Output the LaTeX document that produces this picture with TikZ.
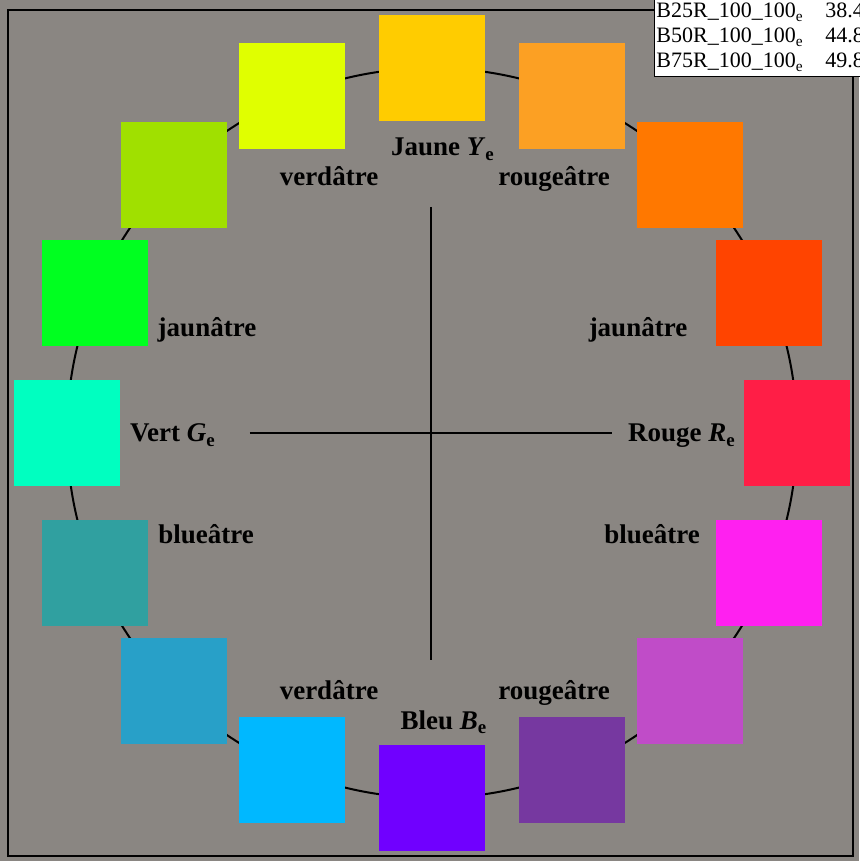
\documentclass[tikz,border=0pt]{standalone}
\usepackage{fontspec}
\setmainfont{Liberation Serif}
\usetikzlibrary{positioning}
\definecolor{bggray}{RGB}{138,134,130}
\definecolor{c1}{RGB}{255,204,0}
\definecolor{c2}{RGB}{252,160,35}
\definecolor{c3}{RGB}{255,120,0}
\definecolor{c4}{RGB}{255,68,0}
\definecolor{c5}{RGB}{255,30,70}
\definecolor{c6}{RGB}{255,32,240}
\definecolor{c7}{RGB}{192,76,200}
\definecolor{c8}{RGB}{118,56,160}
\definecolor{c9}{RGB}{112,0,255}
\definecolor{c10}{RGB}{0,184,255}
\definecolor{c11}{RGB}{40,160,200}
\definecolor{c12}{RGB}{48,160,160}
\definecolor{c13}{RGB}{0,255,192}
\definecolor{c14}{RGB}{0,255,32}
\definecolor{c15}{RGB}{160,224,0}
\definecolor{c16}{RGB}{224,255,0}

\begin{document}
\begin{tikzpicture}[x=0.5pt,y=0.5pt,
    patch/.style={rectangle,inner sep=0pt,minimum size=53pt},
    lab/.style={anchor=base,inner sep=0pt,font=\fontsize{13.5}{16}\selectfont\bfseries},
    cell/.style={anchor=base west,inner sep=0pt,font=\fontsize{11}{13}\selectfont}]
  \useasboundingbox[fill=bggray] (-432,-428) rectangle (427,433);
  \draw[line width=1.25pt] (-424,-423) rectangle (421,423);
  \draw[line width=1pt] (0,0) circle (365);

  % colour patches, clockwise from the top
  \foreach \i in {1,...,16}
    \node[patch,fill=c\i] (s\i) at ({112.5-22.5*\i}:365) {};

  % axes
  \coordinate (hl) at (-182,0);
  \coordinate (hr) at (180,0);
  \coordinate (vt) at (-1,226);
  \coordinate (vb) at (-1,-227);
  \draw[line width=1pt] (hl) -- (hr);
  \draw[line width=1pt] (vt) -- (vb);

  % hue names
  \node[lab] (ye) at (11,277) {Jaune \textit{Y}\textsubscript{e}};
  \node[lab] (re) at (250,-9) {Rouge \textit{R}\textsubscript{e}};
  \node[lab] (be) at (12,-296) {Bleu \textit{B}\textsubscript{e}};
  \node[lab] (ge) at (-259,-9) {Vert \textit{G}\textsubscript{e}};
  \node[lab] (ygl) at (-103,247) {verdâtre};
  \node[lab] (yrl) at (122,247) {rougeâtre};
  \node[lab] (ryl) at (206,96) {jaunâtre};
  \node[lab] (rbl) at (220,-111) {blueâtre};
  \node[lab] (brl) at (122,-266) {rougeâtre};
  \node[lab] (bgl) at (-103,-266) {verdâtre};
  \node[lab] (gbl) at (-226,-111) {blueâtre};
  \node[lab] (gyl) at (-225,96) {jaunâtre};

  % table
  \draw[line width=0.5pt,fill=white] (222,445) rectangle (445,356);
  \foreach \r/\n/\v [count=\k] in {25/38.4/415,50/44.8/390,75/49.8/365} {
    \node[cell] (t\k) at (224,\v) {B\r R\_100\_100\textsubscript{e}};
    \node[cell] (n\k) at (393,\v) {\n};
  }
\end{tikzpicture}
\end{document}
